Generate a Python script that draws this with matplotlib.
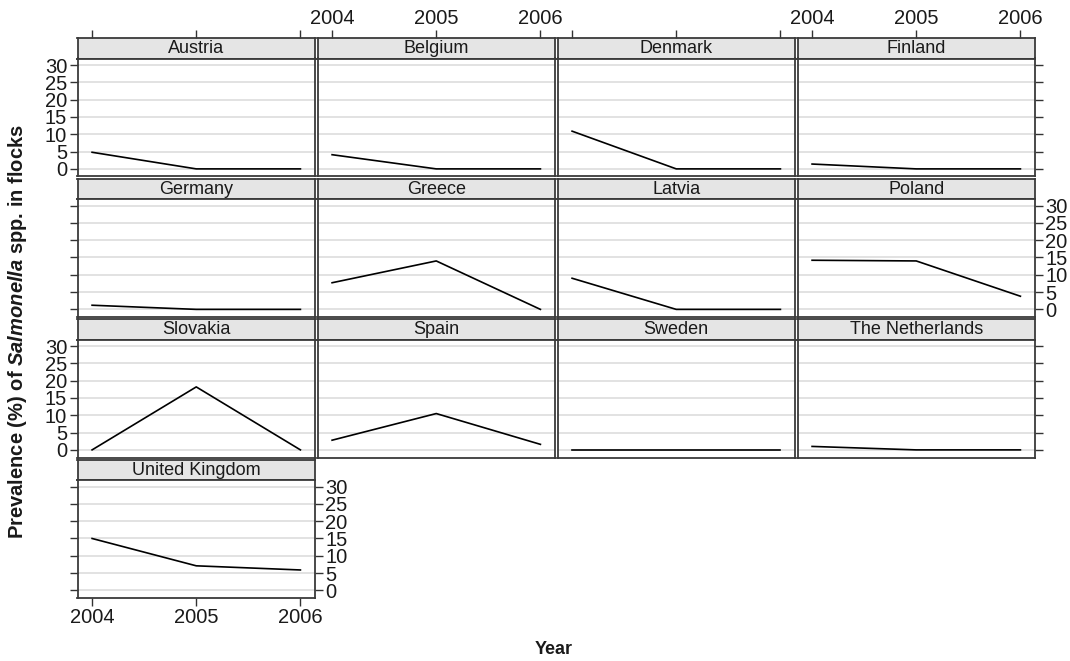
import matplotlib
matplotlib.use("Agg")
import matplotlib.pyplot as plt

plt.rcParams['font.family'] = ['Liberation Sans', 'DejaVu Sans']
plt.rcParams['mathtext.fontset'] = 'custom'
plt.rcParams['mathtext.bfit'] = 'Liberation Sans:italic:bold'
plt.rcParams['mathtext.rm'] = 'Liberation Sans'

# ---- data ----
countries = ["Austria", "Belgium", "Denmark", "Finland",
             "Germany", "Greece", "Latvia", "Poland",
             "Slovakia", "Spain", "Sweden", "The Netherlands",
             "United Kingdom"]
years = [2004, 2005, 2006]
prev_2004 = [4.8, 4.1, 10.9, 1.4, 1.2, 7.7, 9.0, 14.2, 0.0, 2.8, 0.0, 1.0, 15.0]
prev_2005 = [0.0, 0.0, 0.0, 0.0, 0.0, 14.0, 0.0, 14.0, 18.2, 10.5, 0.0, 0.0, 7.1]
prev_2006 = [0.0, 0.0, 0.0, 0.0, 0.0, 0.0, 0.0, 3.8, 0.0, 1.6, 0.0, 0.0, 5.9]
y_ticks = [0, 5, 10, 15, 20, 25, 30]
x_tick_labels = ["2004", "2005", "2006"]

# ---- layout ----
W, H = 1070, 661
fig = plt.figure(figsize=(W / 100, H / 100), dpi=100)


def ax_px(x, y, w, h):
    return fig.add_axes([x / W, 1 - (y + h) / H, w / W, h / H])


col_x0, col_step, pw = 77.5, 240.0, 237.5
row_y0, row_step, sh, ph = 38.0, 140.5, 20.5, 118.0
xlim = (2003.86, 2006.14)
ylim = (-2.2, 31.9)
ncol = 4
n = len(countries)
nrow = (n + ncol - 1) // ncol

spine_col = '#3a3a3a'
tick_kw = dict(length=6, width=1, color='#333333', pad=1.5,
               labelsize=14.5, labelcolor='#1a1a1a')

for i, name in enumerate(countries):
    r, c = divmod(i, ncol)
    x = col_x0 + c * col_step
    ytop = row_y0 + r * row_step

    # strip
    st = ax_px(x, ytop, pw, sh)
    st.set_facecolor('#e5e5e5')
    st.set_xlim(xlim)
    st.set_ylim(0, 1)
    st.set_yticks([])
    for s in st.spines.values():
        s.set_color(spine_col)
        s.set_linewidth(1.3)
    st.text(0.5, 0.47, name, transform=st.transAxes, ha='center', va='center',
            fontsize=13, color='#1a1a1a')
    if r == 0:
        st.set_xticks(years)
        st.set_xticklabels(x_tick_labels)
        st.xaxis.tick_top()
        st.tick_params(axis='x', top=True, bottom=False,
                       labeltop=(c % 2 == 1), labelbottom=False, **tick_kw)
    else:
        st.set_xticks([])

    # panel
    ax = ax_px(x, ytop + sh, pw, ph)
    ax.set_xlim(xlim)
    ax.set_ylim(ylim)
    ax.set_yticks(y_ticks)
    ax.set_yticklabels([str(v) for v in y_ticks])
    ax.set_xticks(years)
    ax.set_xticklabels(x_tick_labels)
    ax.grid(axis='y', color='#e2e2e2', lw=1.4)
    ax.set_axisbelow(True)
    for s in ax.spines.values():
        s.set_color(spine_col)
        s.set_linewidth(1.3)
    ax.plot(years, [prev_2004[i], prev_2005[i], prev_2006[i]],
            color='black', lw=1.2)

    last_in_row = (c == ncol - 1) or (i == n - 1)
    left_on = (c == 0)
    left_lab = left_on and (r % 2 == 0)
    right_on = last_in_row
    right_lab = right_on and (r % 2 == 1)
    bottom_on = (i == n - 1) or (r == nrow - 1)
    ax.tick_params(axis='y', left=left_on, labelleft=left_lab,
                   right=right_on, labelright=right_lab, **tick_kw)
    ax.tick_params(axis='x', bottom=bottom_on, labelbottom=bottom_on,
                   top=False, labeltop=False, **tick_kw)

fig.text(18 / W, 1 - 332 / H,
         r"Prevalence (%) of $\mathbfit{Salmonella}$ spp. in flocks",
         rotation=90, ha='center', va='center', fontsize=14.5,
         fontweight='bold', color='#1a1a1a')
fig.text(554 / W, 1 - 650 / H, "Year", ha='center', va='center',
         fontsize=13, fontweight='bold', color='#1a1a1a')

fig.savefig("out.png", dpi=100)
